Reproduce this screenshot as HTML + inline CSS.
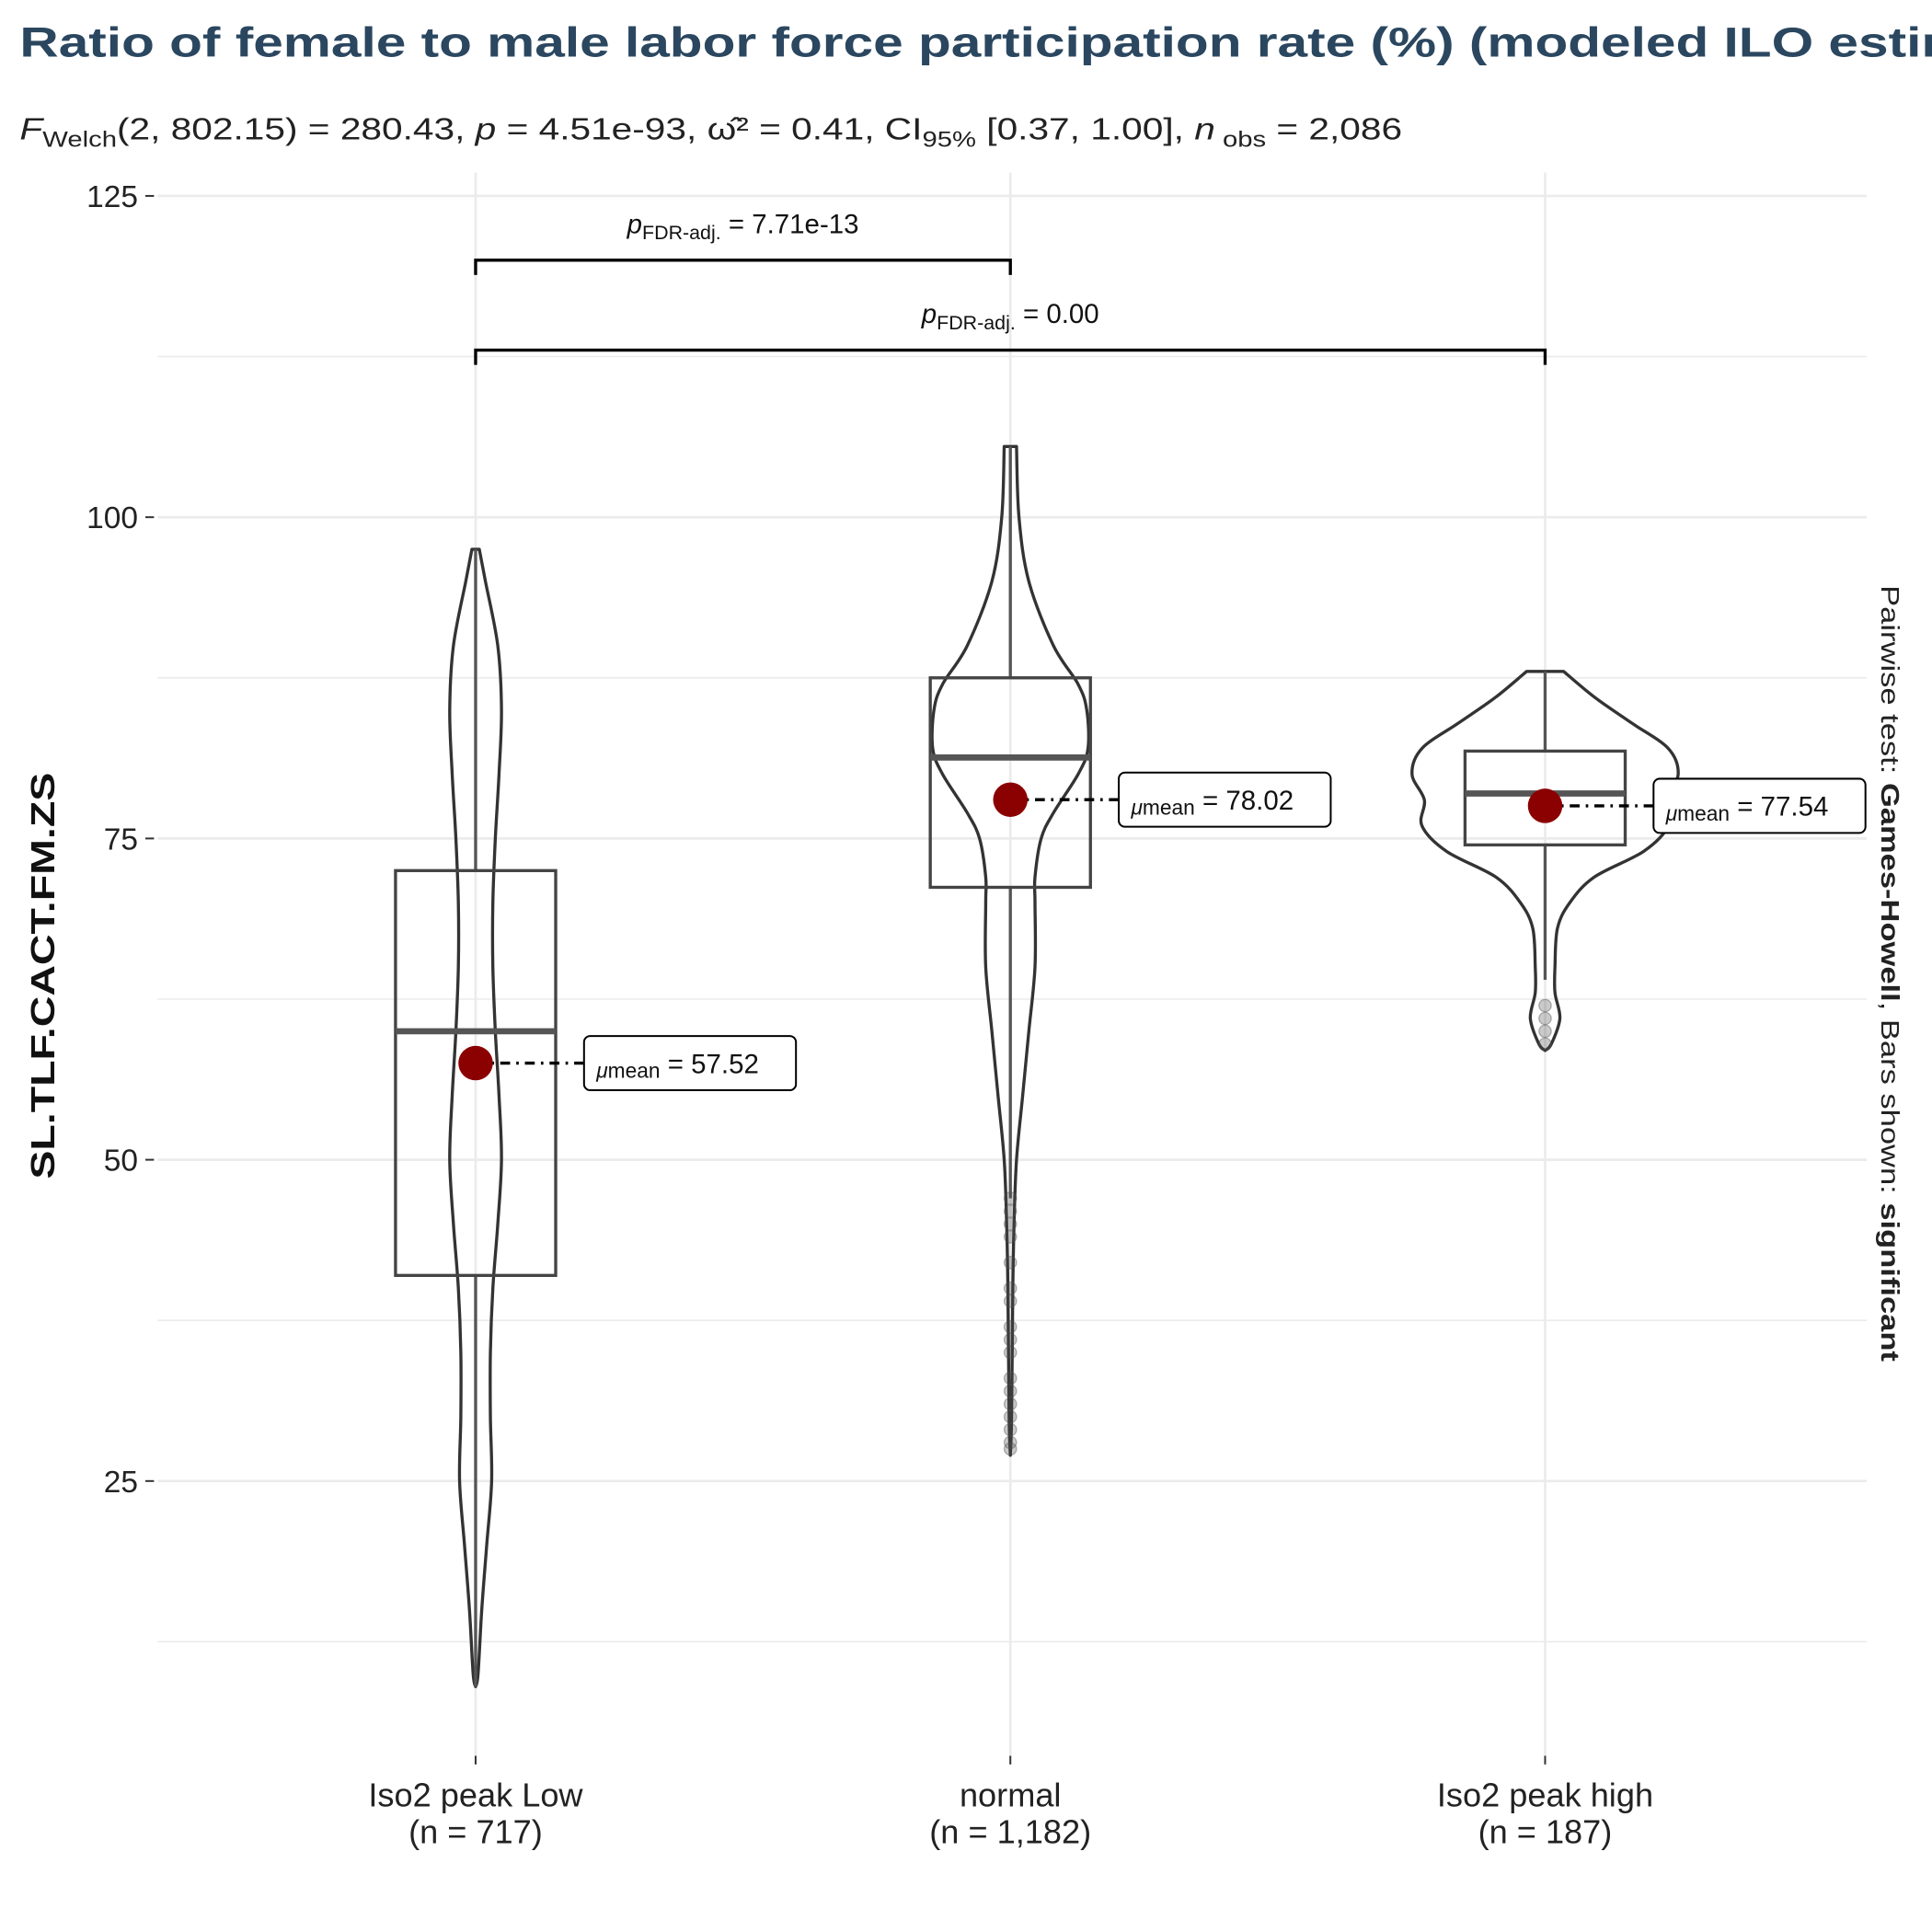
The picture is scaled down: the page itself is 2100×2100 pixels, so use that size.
<!DOCTYPE html>
<html><head><meta charset="utf-8"><style>
html,body{margin:0;padding:0;background:#fff}
svg{display:block;font-family:"Liberation Sans",sans-serif}
</style></head><body>
<svg width="2100" height="2100" viewBox="0 0 1568 1568" xmlns="http://www.w3.org/2000/svg">
<rect width="1568" height="1568" fill="#fff"/>
<text x="16" y="46" font-size="34" font-weight="bold" fill="#2b4760" textLength="1660" lengthAdjust="spacingAndGlyphs">Ratio of female to male labor force participation rate (%) (modeled ILO estimate)</text>
<text x="16" y="113" font-size="25" fill="#222" textLength="1122" lengthAdjust="spacingAndGlyphs"><tspan font-style="italic">F</tspan><tspan font-size="18" dy="6">Welch</tspan><tspan dy="-6">(2, 802.15) = 280.43, </tspan><tspan font-style="italic">p</tspan> = 4.51e-93, ω̂² = 0.41, CI<tspan font-size="18" dy="6">95%</tspan><tspan dy="-6"> [0.37, 1.00], </tspan><tspan font-style="italic">n</tspan><tspan font-size="18" dy="6"> obs</tspan><tspan dy="-6"> = 2,086</tspan></text>
<g id="grid"></g>
<g id="marks"></g>
<text transform="translate(44,792) rotate(-90)" text-anchor="middle" font-size="27" font-weight="bold" fill="#111" textLength="330" lengthAdjust="spacingAndGlyphs">SL.TLF.CACT.FM.ZS</text>
<text transform="translate(1527,790) rotate(90)" text-anchor="middle" font-size="21" fill="#222" textLength="630" lengthAdjust="spacingAndGlyphs">Pairwise test: <tspan font-weight="bold">Games-Howell</tspan>, Bars shown: <tspan font-weight="bold">significant</tspan></text>
</svg>
<script>
const categories=["Iso2 peak  Low","normal","Iso2 peak  high"];
const counts=["717","1,182","187"];
const yTicks=[25,50,75,100,125];
const means=[57.52,78.02,77.54];
const q1=[41,71.2,74.5], med=[60,81.3,78.5], q3=[72.5,87.5,81.8];
const whiskLo=[9,47,64], whiskHi=[97.5,105.5,88];
const violin0=[[97.5,3],[95,8],[90,18],[85,21],[80,19],[75,16],[70,14],[65,14],[60,16],[55,19],[50,21],[45,18],[40,14],[35,12],[30,12],[25,13],[20,9],[15,5],[10,2],[9,0]];
const violin1=[[105.5,5],[100,7],[95,15],[90,35],[87,55],[85,62],[82,63],[80,55],[77,35],[75,25],[72,20],[70,20],[65,20],[60,15],[55,10],[50,5],[45,3],[40,2],[30,1],[27,0]];
const violin2=[[88,15],[86,40],[84,70],[82,100],[80,108],[78,98],[76,100],[74,80],[72,40],[70,20],[68,10],[65,8],[63,8],[61,12],[59,5],[58.5,0]];
const outliers1=[27.5,28,29,30,31,32,33,35,36,37,39,40,42,44,45,46,47];
const outliers2=[59,60,61,62];
const pLabels=["7.71e-13","0.00"];
const NS="http://www.w3.org/2000/svg";
const y=v=>159+(125-v)*10.43;
const x=i=>386+i*434;
function mk(p,t,a){const e=document.createElementNS(NS,t);for(const k in a)e.setAttribute(k,a[k]);p.appendChild(e);return e;}
function smooth(pts){let d='M'+pts[0].join(',');for(let i=0;i<pts.length-1;i++){const p0=pts[Math.max(i-1,0)],p1=pts[i],p2=pts[i+1],p3=pts[Math.min(i+2,pts.length-1)];
 const c1=[p1[0]+(p2[0]-p0[0])/6,p1[1]+(p2[1]-p0[1])/6],c2=[p2[0]-(p3[0]-p1[0])/6,p2[1]-(p3[1]-p1[1])/6];
 d+=' C'+c1.join(',')+' '+c2.join(',')+' '+p2.join(',');}return d;}
const grid=document.getElementById('grid'), marks=document.getElementById('marks'), svg=grid.parentNode;
[12.5,25,37.5,50,62.5,75,87.5,100,112.5,125].forEach(v=>{
  const l=mk(grid,'line',{x1:128,x2:1515,y1:y(v),y2:y(v),stroke:'#ebebeb','stroke-width':v%25==0?2:1.2});
  
  
});
categories.forEach((c,i)=>{const l=mk(grid,'line',{x1:x(i),x2:x(i),y1:140,y2:1425,stroke:'#ebebeb','stroke-width':2});
  
  });
yTicks.forEach(v=>{
  mk(svg,'line',{x1:118,x2:125,y1:y(v),y2:y(v),stroke:'#333','stroke-width':1.5});
  const t=mk(svg,'text',{x:112,y:y(v)+9,'text-anchor':'end','font-size':25,fill:'#222'});t.textContent=v;
  
  
});
categories.forEach((c,i)=>{
  mk(svg,'line',{x1:x(i),x2:x(i),y1:1425,y2:1432,stroke:'#333','stroke-width':1.5});
  const t=mk(svg,'text',{x:x(i),y:1466,'text-anchor':'middle','font-size':27,fill:'#222'});
  
  
  mk(t,'tspan',{x:x(i)}).textContent=c;
  mk(t,'tspan',{x:x(i),dy:30}).textContent='(n = '+counts[i]+')';
});
const violins=[violin0,violin1,violin2];
violins.forEach((vd,i)=>{
  const L=vd.map(p=>[x(i)-p[1],y(p[0])]), R=vd.map(p=>[x(i)+p[1],y(p[0])]).reverse();
  const v=mk(marks,'path',{d:smooth(L)+' L'+smooth(R).slice(1)+'Z',fill:'none',stroke:'#333','stroke-width':2.5,'stroke-linejoin':'round'});
  
  
  const g=mk(marks,'g',{});
  
  
  const bw=65;
  mk(g,'line',{x1:x(i),x2:x(i),y1:y(whiskHi[i]),y2:y(q3[i]),stroke:'#555','stroke-width':2.5});
  mk(g,'line',{x1:x(i),x2:x(i),y1:y(q1[i]),y2:y(whiskLo[i]),stroke:'#555','stroke-width':2.5});
  mk(g,'rect',{x:x(i)-bw,y:y(q3[i]),width:2*bw,height:y(q1[i])-y(q3[i]),fill:'none',stroke:'#444','stroke-width':2.5});
  mk(g,'line',{x1:x(i)-bw,x2:x(i)+bw,y1:y(med[i]),y2:y(med[i]),stroke:'#555','stroke-width':5});
});
[[1,outliers1],[2,outliers2]].forEach(([i,arr])=>arr.forEach(v=>{
  const c=mk(marks,'circle',{cx:x(i),cy:y(v),r:5,fill:'rgba(80,80,80,0.3)',stroke:'rgba(80,80,80,0.4)'});
  
  
}));
means.forEach((m,i)=>{
  const lx=x(i)+88;
  mk(marks,'line',{x1:x(i),x2:lx+14,y1:y(m),y2:y(m),stroke:'#000','stroke-width':2.5,'stroke-dasharray':'8,5,2,5'});
  const c=mk(marks,'circle',{cx:x(i),cy:y(m),r:14,fill:'#8b0000'});
  
  
  const r=mk(marks,'rect',{x:lx,y:y(m)-22,width:172,height:44,rx:5,fill:'#fff',stroke:'#000','stroke-width':1.5});
  
  
  const t=mk(marks,'text',{x:lx+10,y:y(m)+8,'font-size':22,fill:'#111'});
  t.innerHTML='<tspan font-style="italic" font-size="17" dy="4">μ</tspan><tspan font-size="17">mean</tspan><tspan dy="-4"> = '+m.toFixed(2)+'</tspan>';
});
const brackets=[[0,1,120],[0,2,113]];
brackets.forEach((b,k)=>{
  const g=mk(marks,'g',{});
  
  
  mk(g,'path',{d:`M${x(b[0])},${y(b[2])+12} V${y(b[2])} H${x(b[1])} V${y(b[2])+12}`,fill:'none',stroke:'#000','stroke-width':2.5});
  const t=mk(g,'text',{x:(x(b[0])+x(b[1]))/2,y:y(b[2])-22,'text-anchor':'middle','font-size':22,fill:'#111'});
  t.innerHTML='<tspan font-style="italic">p</tspan><tspan font-size="16" dy="5">FDR-adj.</tspan><tspan dy="-5"> = '+pLabels[k]+'</tspan>';
});
</script>
</body></html>
